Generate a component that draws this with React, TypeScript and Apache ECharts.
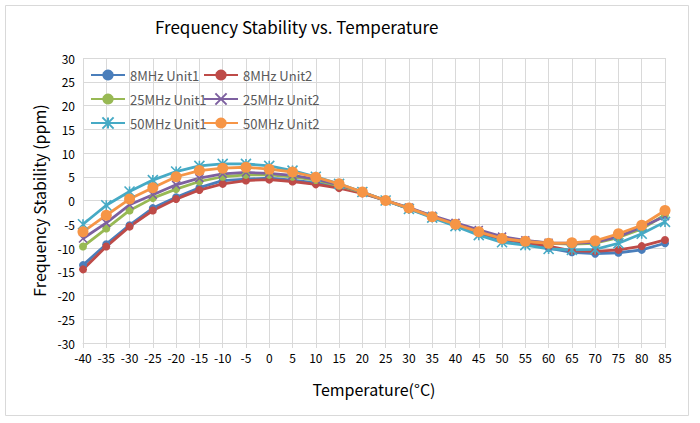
import React, { useEffect, useRef } from "react";
import * as echarts from "echarts";

const temps = [-40, -35, -30, -25, -20, -15, -10, -5, 0, 5, 10, 15, 20, 25, 30, 35, 40, 45, 50, 55, 60, 65, 70, 75, 80, 85];

const mhz8Unit1 = [-13.6, -9.2, -5.2, -1.6, 0.7, 2.7, 4.2, 4.5, 4.7, 4.3, 3.7, 2.8, 1.6, 0, -1.7, -3.4, -5.3, -6.9, -8.2, -9.0, -10.0, -10.9, -11.2, -11.0, -10.4, -9.0];
const mhz8Unit2 = [-14.5, -9.7, -5.5, -2.1, 0.3, 2.2, 3.5, 4.2, 4.4, 4.0, 3.4, 2.6, 1.5, 0, -1.7, -3.4, -5.2, -6.8, -8.0, -8.8, -9.6, -10.6, -10.7, -10.4, -9.6, -8.3];
const mhz25Unit1 = [-9.7, -5.9, -2.1, 0.5, 2.4, 4.0, 5.0, 5.4, 5.4, 5.0, 4.3, 3.1, 1.7, 0, -1.6, -3.3, -4.9, -6.4, -7.8, -8.5, -9.0, -9.2, -9.0, -7.8, -6.0, -3.0];
const mhz25Unit2 = [-8.0, -4.7, -0.9, 1.2, 3.3, 4.7, 5.6, 5.9, 5.7, 5.3, 4.5, 3.3, 1.8, 0, -1.5, -3.2, -4.7, -6.2, -7.6, -8.4, -8.9, -9.0, -8.8, -7.6, -5.6, -3.3];
const mhz50Unit1 = [-5.0, -1.0, 1.9, 4.3, 6.1, 7.3, 7.7, 7.7, 7.3, 6.3, 5.0, 3.5, 1.8, 0, -1.8, -3.6, -5.4, -7.3, -8.8, -9.4, -10.2, -10.4, -10.3, -9.0, -7.0, -4.5];
const mhz50Unit2 = [-6.6, -3.1, 0.3, 2.7, 5.0, 6.3, 6.8, 7.0, 6.6, 6.0, 4.9, 3.5, 1.8, 0, -1.6, -3.4, -5.0, -6.6, -8.0, -8.6, -9.0, -8.9, -8.5, -7.0, -5.2, -2.1];

const seriesNames = ["8MHz Unit1", "8MHz Unit2", "25MHz Unit1", "25MHz Unit2", "50MHz Unit1", "50MHz Unit2"];
const seriesValues = [mhz8Unit1, mhz8Unit2, mhz25Unit1, mhz25Unit2, mhz50Unit1, mhz50Unit2];

const FONT = "'Noto Sans CJK SC', 'Noto Sans', sans-serif";

const X_SYMBOL = "path://M0,0L10,10M10,0L0,10";
const STAR_SYMBOL = "path://M5,0L5,10M0,0L10,10M10,0L0,10";

const styles = [
  { color: "#4A7EBB", symbol: "circle", size: 8 },
  { color: "#BE4B48", symbol: "circle", size: 8 },
  { color: "#98B954", symbol: "circle", size: 8 },
  { color: "#7D60A0", symbol: X_SYMBOL, size: 8 },
  { color: "#46AAC5", symbol: STAR_SYMBOL, size: 10 },
  { color: "#F69546", symbol: "circle", size: 11 },
];

export default function App() {
  const ref = useRef<HTMLDivElement>(null);
  useEffect(() => {
    if (!ref.current) return;
    const chart = echarts.init(ref.current, null, { renderer: "svg" });
    const series = seriesNames.map((name, i) => {
      const st = styles[i];
      const isPath = st.symbol.startsWith("path://");
      return {
        name,
        type: "line",
        data: temps.map((t, j) => [t, seriesValues[i][j]]),
        symbol: st.symbol,
        symbolSize: st.size,
        showSymbol: true,
        lineStyle: { color: st.color, width: 2.8 },
        itemStyle: isPath
          ? { color: st.color, borderColor: st.color, borderWidth: 1.6 }
          : { color: st.color, borderColor: st.color, borderWidth: 0 },
      };
    });
    const legendBase = {
      orient: "vertical",
      top: 68,
      padding: 0,
      itemWidth: 34,
      itemHeight: 14,
      itemGap: 10,
      textStyle: { fontSize: 13, color: "#595959", lineHeight: 14, fontFamily: FONT },
    };
    chart.setOption({
      animation: false,
      backgroundColor: "#ffffff",
      textStyle: { fontFamily: FONT },
      title: {
        text: "Frequency Stability vs. Temperature",
        left: 150,
        top: 13,
        textStyle: { fontSize: 17, fontWeight: "normal", color: "#000000", fontFamily: FONT },
      },
      graphic: [
        {
          type: "rect",
          shape: { x: 5.5, y: 5.5, width: 683, height: 410 },
          style: { fill: "none", stroke: "#d9d9d9", lineWidth: 1 },
          silent: true,
        },
      ],
      legend: [
        { ...legendBase, left: 90, data: [seriesNames[0], seriesNames[2], seriesNames[4]] },
        { ...legendBase, left: 203, data: [seriesNames[1], seriesNames[3], seriesNames[5]] },
      ],
      grid: { left: 83, right: 35, top: 58, bottom: 80, containLabel: false },
      xAxis: {
        type: "value",
        min: -40,
        max: 85,
        interval: 5,
        name: "Temperature(°C)",
        nameLocation: "middle",
        nameGap: 38,
        nameTextStyle: { fontSize: 16, color: "#000000", fontFamily: FONT },
        axisLine: { show: true, onZero: false, lineStyle: { color: "#d9d9d9" } },
        axisTick: { show: true, length: 5, lineStyle: { color: "#d9d9d9" } },
        axisLabel: { fontSize: 12, color: "#000000", margin: 8, fontFamily: FONT },
        splitLine: { show: true, lineStyle: { color: "#d9d9d9", width: 1 } },
      },
      yAxis: {
        type: "value",
        min: -30,
        max: 30,
        interval: 5,
        name: "Frequency Stability (ppm)",
        nameLocation: "middle",
        nameGap: 33,
        nameTextStyle: { fontSize: 16, color: "#000000", fontFamily: FONT },
        axisLine: { show: true, lineStyle: { color: "#d9d9d9" } },
        axisTick: { show: false },
        axisLabel: { fontSize: 12, color: "#000000", margin: 8, fontFamily: FONT },
        splitLine: { show: true, lineStyle: { color: "#d9d9d9", width: 1 } },
      },
      series,
    });
    return () => chart.dispose();
  }, []);
  return (
    <div
      ref={ref}
      style={{ position: "fixed", left: 0, top: 0, width: 700, height: 423, background: "#fff" }}
    />
  );
}
